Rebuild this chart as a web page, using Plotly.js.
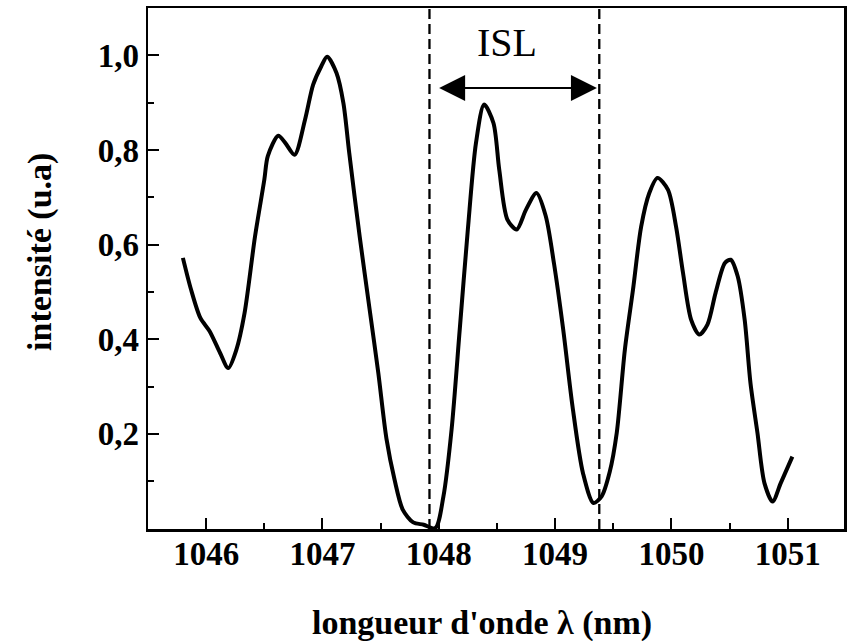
<!DOCTYPE html>
<html>
<head>
<meta charset="utf-8">
<script src="https://cdn.plot.ly/plotly-3.0.1.min.js"></script>
<style>html,body{margin:0;padding:0;background:#fff;}#chart{width:856px;height:641px;}</style>
</head>
<body>
<div id="chart"></div>
<script>
// Wavelength (nm)
const wavelength = [1045.80, 1045.87, 1045.95, 1046.03, 1046.12, 1046.19, 1046.26, 1046.33, 1046.42, 1046.50,
  1046.53, 1046.62, 1046.68, 1046.76, 1046.85, 1046.92, 1046.99, 1047.04, 1047.12, 1047.18,
  1047.23, 1047.32, 1047.41, 1047.48, 1047.55, 1047.62, 1047.69, 1047.78, 1047.87, 1047.97,
  1048.04, 1048.11, 1048.18, 1048.25, 1048.32, 1048.39, 1048.47, 1048.52, 1048.59, 1048.67,
  1048.75, 1048.84, 1048.92, 1048.99, 1049.07, 1049.15, 1049.24, 1049.33, 1049.40, 1049.47,
  1049.53, 1049.60, 1049.67, 1049.74, 1049.81, 1049.88, 1049.97, 1050.04, 1050.10, 1050.17,
  1050.24, 1050.31, 1050.38, 1050.46, 1050.51, 1050.57, 1050.63, 1050.68, 1050.74, 1050.80,
  1050.87, 1050.94, 1051.04];
// Intensity (u.a)
const intensity = [0.572, 0.505, 0.445, 0.417, 0.371, 0.339, 0.378, 0.455, 0.617, 0.737,
  0.787, 0.830, 0.815, 0.790, 0.864, 0.938, 0.977, 0.997, 0.963, 0.899,
  0.794, 0.617, 0.455, 0.329, 0.190, 0.103, 0.040, 0.013, 0.008, 0.001,
  0.068, 0.209, 0.420, 0.632, 0.815, 0.896, 0.857, 0.758, 0.653, 0.632,
  0.674, 0.709, 0.660, 0.561, 0.420, 0.258, 0.117, 0.054, 0.068, 0.120,
  0.202, 0.378, 0.505, 0.638, 0.709, 0.741, 0.716, 0.638, 0.540, 0.441,
  0.410, 0.431, 0.498, 0.561, 0.568, 0.533, 0.441, 0.307, 0.202, 0.096,
  0.057, 0.096, 0.152];

const xTickVals = [1046, 1047, 1048, 1049, 1050, 1051];
const xTickText = ['1046', '1047', '1048', '1049', '1050', '1051'];
const yTickVals = [0.2, 0.4, 0.6, 0.8, 1.0];
const yTickText = ['0,2', '0,4', '0,6', '0,8', '1,0'];

// Free spectral range markers
const islBounds = [1047.92, 1049.38];
const islArrow = {from: 1047.99, to: 1049.36, level: 0.931};
const islLabel = {text: 'ISL', x: 1048.59, y: 1.027};

const xTitle = "longueur d'onde \u03bb (nm)";
const yTitle = 'intensit\u00e9 (u.a)';

const serif = 'Liberation Serif, Times New Roman, serif';

const trace = {
  x: wavelength, y: intensity, type: 'scatter', mode: 'lines',
  line: {color: '#000', width: 4, shape: 'spline', smoothing: 0.8},
  hoverinfo: 'skip'
};

const axisCommon = {
  showline: true, linecolor: '#000', linewidth: 2.5, mirror: true,
  showgrid: false, zeroline: false,
  ticks: 'inside', ticklen: 11, tickwidth: 2, tickcolor: '#000',
  tickfont: {family: serif, size: 33, color: '#000', weight: 'bold'}
};

const layout = {
  width: 856, height: 641,
  margin: {l: 148, r: 12, t: 8, b: 112},
  paper_bgcolor: '#fff', plot_bgcolor: '#fff',
  showlegend: false,
  xaxis: Object.assign({}, axisCommon, {
    range: [1045.50, 1051.484],
    tickmode: 'array', tickvals: xTickVals, ticktext: xTickText,
    ticklabelstandoff: -6,
    minor: {tick0: 1046, dtick: 0.5, ticks: 'inside', ticklen: 6, tickwidth: 2, tickcolor: '#000'}
  }),
  yaxis: Object.assign({}, axisCommon, {
    range: [-0.001, 1.100],
    tickmode: 'array', tickvals: yTickVals, ticktext: yTickText,
    minor: {tick0: 0, dtick: 0.1, ticks: 'inside', ticklen: 6, tickwidth: 2, tickcolor: '#000'}
  }),
  shapes: islBounds.map(v => ({
    type: 'line', xref: 'x', yref: 'paper', x0: v, x1: v, y0: 0, y1: 1,
    line: {color: '#000', width: 2.3, dash: '10px,5px'}
  })),
  annotations: [
    {
      xref: 'x', yref: 'y', axref: 'x', ayref: 'y',
      x: islArrow.to, y: islArrow.level, ax: islArrow.from, ay: islArrow.level,
      text: '', showarrow: true, arrowside: 'end+start',
      arrowhead: 2, startarrowhead: 2, arrowsize: 2.6, startarrowsize: 2.6,
      arrowwidth: 2, arrowcolor: '#000', standoff: 0, startstandoff: 0
    },
    {
      xref: 'x', yref: 'y', x: islLabel.x, y: islLabel.y, text: islLabel.text,
      showarrow: false, xanchor: 'center', yanchor: 'middle',
      font: {family: serif, size: 40, color: '#000'}
    },
    {
      xref: 'paper', yref: 'paper', x: 0.4795, y: -0.180, text: xTitle,
      showarrow: false, xanchor: 'center', yanchor: 'middle',
      font: {family: serif, size: 34, color: '#000', weight: 'bold'}
    },
    {
      xref: 'paper', yref: 'paper', x: -0.155, y: 0.532, text: yTitle,
      showarrow: false, xanchor: 'center', yanchor: 'middle', textangle: -90,
      font: {family: serif, size: 34, color: '#000', weight: 'bold'}
    }
  ]
};

Plotly.newPlot('chart', [trace], layout, {staticPlot: true, displayModeBar: false});
</script>
</body>
</html>
